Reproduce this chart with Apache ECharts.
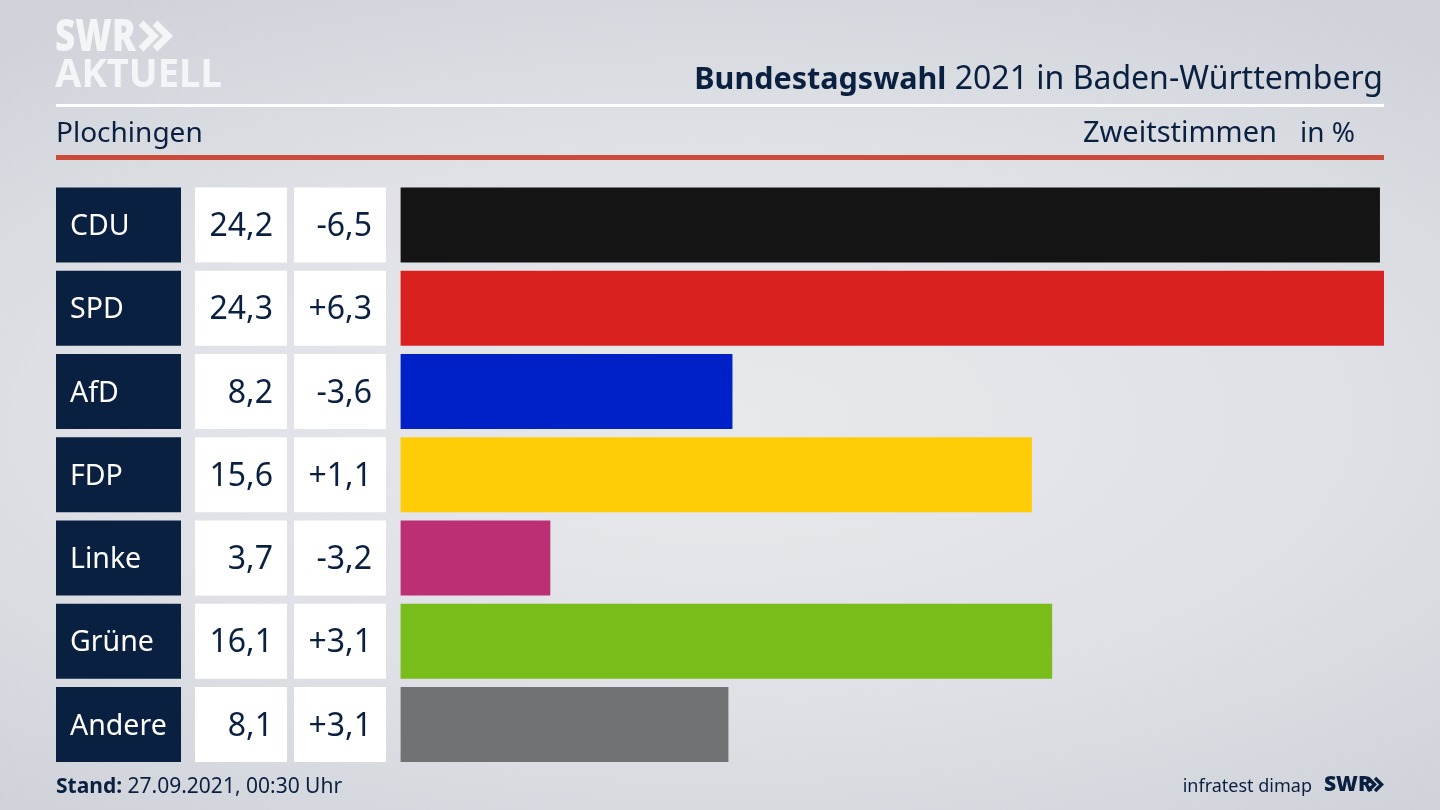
<!DOCTYPE html>
<html>
<head>
<meta charset="utf-8">
<style>
  html, body { margin: 0; padding: 0; }
  body { background: radial-gradient(ellipse 78% 62% at 50% 52%, #e7e9ed 0%, #dfe1e6 55%, #cfd3d9 100%); }
  #main { width: 1440px; height: 810px; }
</style>
<script src="https://cdn.jsdelivr.net/npm/echarts@6/dist/echarts.min.js"></script>
</head>
<body>
<div id="main"></div>
<script>
var parties = ['CDU', 'SPD', 'AfD', 'FDP', 'Linke', 'Grüne', 'Andere'];
var shares = [24.2, 24.3, 8.2, 15.6, 3.7, 16.1, 8.1];
var changes = [-6.5, 6.3, -3.6, 1.1, -3.2, 3.1, 3.1];
var colors = ['#141414', '#d9211f', '#0021c8', '#ffcc08', '#bd2f74', '#78bd1a', '#717274'];

var font = '"Noto Sans", sans-serif';
var navy = '#0a2040';

function comma(v) {
  return v.toFixed(1).replace('.', ',');
}
function signed(v) {
  return (v > 0 ? '+' : '') + comma(v);
}

// the three table columns are y axes with boxed labels
function cellAxis(data, margin, width, textAlign, bg, color, size) {
  return {
    type: 'category',
    position: 'left',
    inverse: true,
    data: data,
    axisLine: { show: false },
    axisTick: { show: false },
    axisLabel: {
      interval: 0,
      margin: margin,
      formatter: function (v) { return '{c|' + v + '}'; },
      rich: {
        c: {
          backgroundColor: bg,
          color: color,
          fontFamily: font,
          fontSize: size,
          width: width - 28,
          height: 71,
          lineHeight: 71,
          align: textAlign,
          padding: [4, 14, 0, 14]
        }
      }
    }
  };
}

function chevron(x, y, h, color) {
  return {
    type: 'polyline',
    shape: { points: [[x, y], [x + h * 0.5, y + h / 2], [x, y + h]] },
    style: { stroke: color, fill: null, lineWidth: h * 0.27 }
  };
}

var chart = echarts.init(document.getElementById('main'));

var option = {
  animation: false,
  backgroundColor: 'transparent',
  textStyle: { fontFamily: font },
  grid: { left: 400.6, top: 183.4, width: 983.4, height: 582.8, outerBoundsMode: 'none' },
  xAxis: { type: 'value', min: 0, max: 24.3, show: false },
  yAxis: [
    cellAxis(parties, 219.6, 125, 'left', navy, '#ffffff', 28.5),
    cellAxis(shares.map(comma), 113.6, 92, 'right', '#ffffff', navy, 32),
    cellAxis(changes.map(signed), 14.6, 92, 'right', '#ffffff', navy, 32)
  ],
  series: [{
    type: 'bar',
    yAxisIndex: 0,
    barWidth: 75,
    data: shares.map(function (v, i) {
      return { value: v, itemStyle: { color: colors[i] } };
    })
  }],
  graphic: [
    { type: 'rect', shape: { x: 56, y: 104, width: 1328, height: 3 }, style: { fill: '#ffffff' } },
    { type: 'rect', shape: { x: 56, y: 155, width: 1328, height: 5 }, style: { fill: '#cb4a38' } },

    { type: 'text', x: 55, y: 38, scaleX: 0.8, style: { text: 'SWR', fill: '#f4f5f6', font: '900 44px ' + font, textVerticalAlign: 'middle' } },
    chevron(141, 23, 26, '#f4f5f6'),
    chevron(155, 23, 26, '#f4f5f6'),
    { type: 'text', x: 55, y: 76, scaleX: 0.955, style: { text: 'AKTUELL', fill: '#f4f5f6', font: '700 40px ' + font, textVerticalAlign: 'middle' } },

    { type: 'text', x: 1383, y: 80, style: { text: '{b|Bundestagswahl} 2021 in Baden-Württemberg', align: 'right', verticalAlign: 'middle', fill: navy, font: '32px ' + font, rich: { b: { font: '700 30.5px ' + font, fill: navy } } } },
    { type: 'text', x: 56, y: 134, style: { text: 'Plochingen', fill: navy, font: '28px ' + font, textVerticalAlign: 'middle' } },
    { type: 'text', x: 1277, y: 134, style: { text: 'Zweitstimmen', align: 'right', verticalAlign: 'middle', fill: navy, font: '29px ' + font } },
    { type: 'text', x: 1355, y: 134, style: { text: 'in %', align: 'right', verticalAlign: 'middle', fill: navy, font: '28px ' + font } },

    { type: 'text', x: 56, y: 787, style: { text: '{b|Stand:} 27.09.2021, 00:30 Uhr', verticalAlign: 'middle', fill: navy, font: '21px ' + font, rich: { b: { font: '700 21px ' + font, fill: navy } } } },
    { type: 'text', x: 1312, y: 787, style: { text: 'infratest dimap', align: 'right', verticalAlign: 'middle', fill: navy, font: '18px ' + font } },
    { type: 'text', x: 1324, y: 785, style: { text: 'SWR', verticalAlign: 'middle', fill: navy, font: '900 21px ' + font } },
    chevron(1368, 778, 13, navy),
    chevron(1375, 778, 13, navy)
  ]
};

chart.setOption(option);
</script>
</body>
</html>
